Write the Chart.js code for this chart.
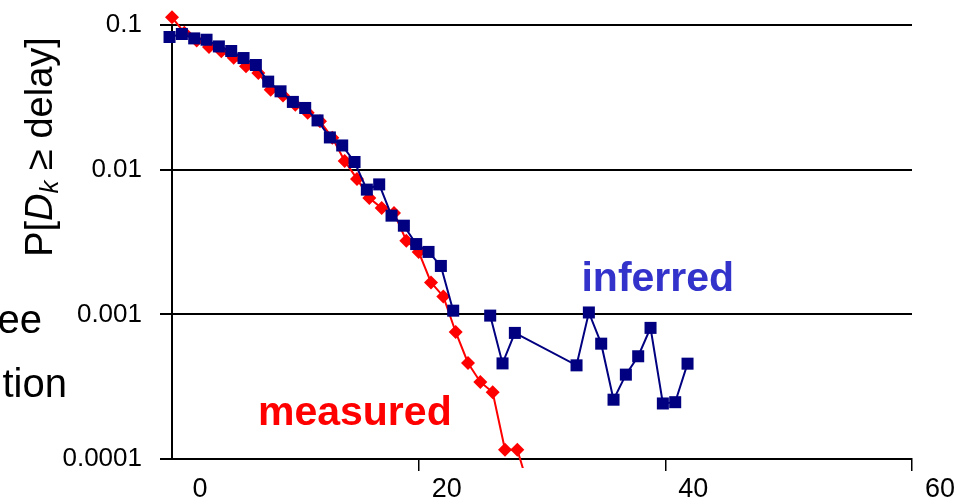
<!DOCTYPE html>
<html>
<head>
<meta charset="utf-8">
<script src="https://cdn.jsdelivr.net/npm/chart.js@4.4.1/dist/chart.umd.min.js"></script>
<style>
    html, body { margin: 0; padding: 0; background: #ffffff; }
    #wrap { width: 967px; height: 501px; }
</style>
</head>
<body>
<div id="wrap"><canvas id="delayChart" width="967" height="501"></canvas></div>
<script>
// measured curve: delay vs P[D_k >= delay]
const measuredDelay = [0, 1, 2, 3, 4, 5, 6, 7, 8, 9, 10, 11, 12, 13, 14,
    15, 16, 17, 18, 19, 20, 21, 22, 23, 24, 25, 26, 27, 28, 29];
const measuredProb = [0.113, 0.0885, 0.078, 0.0705, 0.0658, 0.0594, 0.0518, 0.0466, 0.0357, 0.0326,
    0.0281, 0.0247, 0.0216, 0.0166, 0.0115, 0.00863, 0.00637, 0.00543, 0.00502, 0.00323,
    0.0027, 0.00166, 0.00133, 0.000755, 0.000461, 0.000341, 0.000289, 0.000116, 0.000116, 0.00006];

// inferred curve (null = no estimate, line is broken there)
const inferredDelay = [-0.2, 0.8, 1.8, 2.8, 3.8, 4.8, 5.8, 6.8, 7.8, 8.8, 9.8, 10.8, 11.8,
    12.8, 13.8, 14.8, 15.8, 16.8, 17.8, 18.8, 19.8, 20.8, 21.8, 22.8, 23.8, 24.8,
    25.8, 26.8, 27.8, 32.8, 33.8, 34.8, 35.8, 36.8, 37.8, 38.8, 39.8, 40.8, 41.8];
const inferredProb = [0.0826, 0.0867, 0.0808, 0.0791, 0.0711, 0.0661, 0.0591, 0.0529, 0.0406, 0.0348,
    0.0294, 0.0267, 0.0219, 0.0167, 0.0147, 0.0113, 0.00728, 0.00791, 0.00481, 0.0041,
    0.00306, 0.0027, 0.00216, 0.00106, null, null, 0.00098, 0.000458, 0.000744,
    0.000444, 0.00103, 0.000627, 0.000257, 0.000383, 0.000513, 0.000806, 0.000242, 0.000247, 0.000456];

const xTickValues = [0, 20, 40, 60];
const yTickValues = [0.0001, 0.001, 0.01, 0.1];
const yTickLabels = ["0.0001", "0.001", "0.01", "0.1"];

const FONT = '"Liberation Sans", Arial, sans-serif';

function toPoints(xs, ys) {
    return xs.map(function (x, i) { return { x: x, y: ys[i] }; });
}

// texts that sit around the plot (axis title, series names, slide fragments)
const slideText = {
    id: "slideText",
    afterDraw(chart) {
        const ctx = chart.ctx;
        const xs = chart.scales.x;
        const ys = chart.scales.y;
        ctx.save();

        // series names
        ctx.textAlign = "left";
        ctx.textBaseline = "alphabetic";
        ctx.font = "bold 41px " + FONT;
        ctx.fillStyle = "#3333CC";
        ctx.fillText("inferred", xs.getPixelForValue(33.2), ys.getPixelForValue(0.00144));
        ctx.fillStyle = "#FF0000";
        ctx.fillText("measured", xs.getPixelForValue(6.97), ys.getPixelForValue(0.000173));

        // cut-off words from the slide on the left
        ctx.fillStyle = "#000000";
        ctx.font = "40px " + FONT;
        ctx.textAlign = "right";
        ctx.fillText("ee", 42, 333);
        ctx.fillText("tion", 67, 397);

        // rotated y title: P[D_k >= delay]
        const parts = [
            { t: "P[", f: "38px " + FONT, dy: 0 },
            { t: "D", f: "italic 38px " + FONT, dy: 0 },
            { t: "k", f: "italic 26px " + FONT, dy: 6 },
            { t: " \u2265 delay]", f: "38px " + FONT, dy: 0 }
        ];
        let total = 0;
        parts.forEach(function (p) { ctx.font = p.f; p.w = ctx.measureText(p.t).width; total += p.w; });
        ctx.translate(52, 147);
        ctx.rotate(-Math.PI / 2);
        ctx.textAlign = "left";
        let cx = -total / 2;
        parts.forEach(function (p) {
            ctx.font = p.f;
            ctx.fillText(p.t, cx, p.dy);
            cx += p.w;
        });
        ctx.restore();
    }
};

new Chart(document.getElementById("delayChart").getContext("2d"), {
    type: "scatter",
    data: {
        datasets: [
            {
                label: "inferred",
                data: toPoints(inferredDelay, inferredProb),
                showLine: true,
                spanGaps: false,
                borderColor: "#000080",
                backgroundColor: "#000080",
                borderWidth: 2,
                pointStyle: "rect",
                pointRadius: 8.5,
                pointBorderWidth: 0,
                clip: { left: 12, top: 20, right: 0, bottom: 9 }
            },
            {
                label: "measured",
                data: toPoints(measuredDelay, measuredProb),
                showLine: true,
                borderColor: "#FF0000",
                backgroundColor: "#FF0000",
                borderWidth: 2,
                pointStyle: "rectRot",
                pointRadius: 7,
                // transparent border only widens the area in which points are still drawn
                pointBorderWidth: 3,
                pointBorderColor: "rgba(0,0,0,0)",
                clip: { left: 12, top: 20, right: 0, bottom: 9 }
            }
        ]
    },
    options: {
        responsive: false,
        animation: false,
        devicePixelRatio: 1,
        layout: { padding: { left: 0, top: 25, right: 55, bottom: 0 } },
        plugins: {
            legend: { display: false },
            tooltip: { enabled: false }
        },
        scales: {
            x: {
                type: "linear",
                min: 0,
                max: 60,
                afterBuildTicks: function (scale) {
                    scale.ticks = xTickValues.map(function (v) { return { value: v }; });
                },
                afterFit: function (scale) { scale.height = 42; },
                grid: {
                    drawOnChartArea: false,
                    tickLength: 12,
                    lineWidth: 1.5,
                    tickColor: function (c) {
                        return c.tick && c.tick.value === 0 ? "rgba(0,0,0,0)" : "#000000";
                    }
                },
                border: { display: true, color: "#000000", width: 2 },
                ticks: {
                    color: "#000000",
                    font: { family: FONT, size: 27 },
                    padding: 2,
                    labelOffset: 28,
                    maxRotation: 0,
                    callback: function (v) { return String(v); }
                }
            },
            y: {
                type: "logarithmic",
                min: 0.0001,
                max: 0.1,
                afterBuildTicks: function (scale) {
                    scale.ticks = yTickValues.map(function (v) { return { value: v }; });
                },
                afterFit: function (scale) {
                    scale.width = 172;
                    scale.paddingTop = 0;
                    scale.paddingBottom = 0;
                },
                grid: {
                    color: "#000000",
                    lineWidth: 2,
                    tickLength: 12
                },
                border: { display: true, color: "#000000", width: 2 },
                ticks: {
                    color: "#000000",
                    font: { family: FONT, size: 26 },
                    padding: 18,
                    callback: function (v) {
                        const i = yTickValues.indexOf(v);
                        return i >= 0 ? yTickLabels[i] : "";
                    }
                }
            }
        }
    },
    plugins: [slideText]
});
</script>
</body>
</html>
